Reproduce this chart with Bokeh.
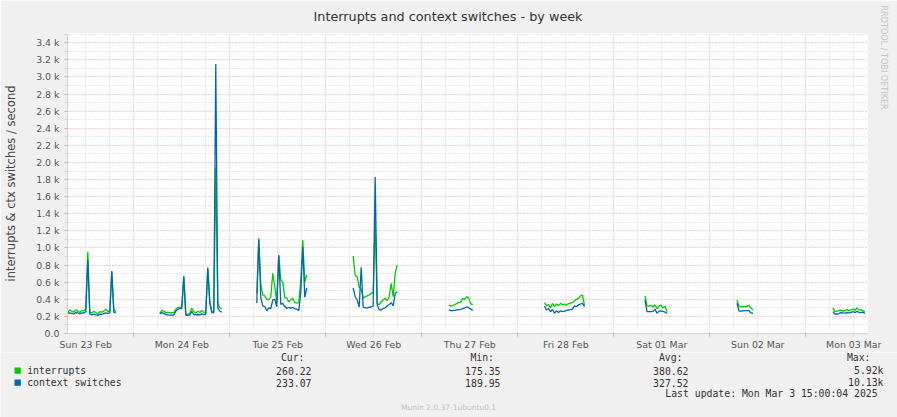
import numpy as np
from bokeh.plotting import figure
from bokeh.layouts import column
from bokeh.models import Range1d, FixedTicker, Grid, Label, BoxAnnotation, Title
from bokeh.embed import file_html
from bokeh.resources import INLINE

# ---------------- data (hours since Sun 23 Feb 2025 00:00, 30-min samples) ----
STEP = 0.5
seg_starts = [7.5, 30.5, 54.75, 78.85, 102.75, 126.68, 151.8, 174.8, 198.8]

int_sun23 = [244, 275, 260, 250, 278, 262, 245, 270, 262, 290, 957, 250, 240, 260, 245,
             230, 255, 250, 262, 285, 260, 260, 720, 290, 250]
ctx_sun23 = [236, 240, 235, 228, 245, 240, 228, 240, 240, 255, 860, 230, 218, 228, 218,
             212, 225, 222, 232, 242, 235, 240, 731, 250, 240]
int_mon24 = [236, 270, 262, 244, 248, 240, 245, 240, 285, 305, 305, 310, 660, 225, 222, 240,
             295, 255, 240, 260, 245, 270, 250, 245, 750, 380, 260, 255, 1940, 360, 300, 290]
ctx_mon24 = [228, 245, 235, 222, 218, 215, 215, 214, 260, 285, 290, 290, 672, 215, 212, 215,
             260, 225, 218, 222, 218, 230, 222, 225, 770, 355, 245, 240, 3150, 300, 260, 250]
int_tue25 = [470, 1113, 579, 450, 440, 400, 392, 430, 704, 549, 372, 905, 626, 600, 420, 410,
             372, 392, 412, 360, 355, 360, 620, 1094, 600, 684]
ctx_tue25 = [353, 1100, 423, 322, 315, 265, 300, 290, 392, 400, 313, 918, 340, 353, 315, 294,
             307, 294, 307, 290, 284, 270, 480, 1015, 423, 532]
int_wed26 = [906, 680, 665, 540, 520, 412, 430, 440, 450, 470, 480, 1300, 353, 335, 372, 392,
             412, 384, 430, 586, 430, 704, 801]
ctx_wed26 = [532, 430, 392, 310, 774, 307, 300, 300, 307, 310, 320, 1830, 335, 278, 275, 294,
             300, 322, 340, 360, 322, 470, 489]
int_thu27 = [333, 320, 330, 335, 353, 360, 365, 411, 400, 430, 411, 345, 340]
ctx_thu27 = [275, 268, 268, 270, 275, 280, 283, 290, 300, 313, 300, 285, 268]
int_fri28 = [360, 325, 340, 300, 353, 315, 345, 325, 353, 335, 345, 330, 350, 355, 360, 384,
             400, 411, 440, 450, 325]
ctx_fri28 = [322, 275, 290, 255, 280, 236, 265, 245, 265, 255, 262, 270, 275, 278, 285, 322,
             315, 335, 345, 353, 313]
int_sat01 = [440, 325, 320, 330, 310, 335, 290, 320, 333, 300, 320, 255]
ctx_sat01 = [392, 255, 255, 255, 258, 285, 236, 262, 265, 260, 250, 236]
int_sun02 = [390, 318, 310, 312, 315, 318, 330, 300, 275]
ctx_sun02 = [355, 262, 262, 265, 268, 268, 268, 240, 236]
int_mon03 = [300, 255, 262, 268, 275, 262, 270, 280, 268, 275, 285, 270, 300, 275, 280, 268, 260]
ctx_mon03 = [255, 228, 228, 232, 244, 240, 238, 244, 240, 248, 255, 245, 258, 248, 245, 250, 233]

int_segments = [int_sun23, int_mon24, int_tue25, int_wed26, int_thu27, int_fri28,
                int_sat01, int_sun02, int_mon03]
ctx_segments = [ctx_sun23, ctx_mon24, ctx_tue25, ctx_wed26, ctx_thu27, ctx_fri28,
                ctx_sat01, ctx_sun02, ctx_mon03]

day_labels = ["Sun 23 Feb", "Mon 24 Feb", "Tue 25 Feb", "Wed 26 Feb", "Thu 27 Feb",
              "Fri 28 Feb", "Sat 01 Mar", "Sun 02 Mar", "Mon 03 Mar"]
y_ticks = list(range(0, 3401, 200))
y_tick_labels = ["0.0"] + ["%.1f k" % (v / 1000) for v in y_ticks[1:]]

series_names = ["interrupts", "context switches"]
series_colors = ["#00CC00", "#0066B3"]
cur_vals = ["260.22", "233.07"]
min_vals = ["175.35", "189.95"]
avg_vals = ["380.62", "327.52"]
max_vals = ["5.92k", "10.13k"]

# ---------------- build series ----------------
xs, gi, bc = [], [], []
for s, g, b in zip(seg_starts, int_segments, ctx_segments):
    xs += [s + STEP * i for i in range(len(g))] + [np.nan]
    gi += list(g) + [np.nan]
    bc += list(b) + [np.nan]

# ---------------- main figure ----------------
W, H = 897, 417
MAIN_H = 352
FL, FT, FW, FH = 67, 33, 800, 300
X0, X1 = 7.43, 207.43
Y0, Y1 = 0, 3508
BG = "#F0F0F0"

p = figure(width=W, height=MAIN_H, output_backend="svg", toolbar_location=None, title=None,
           x_range=Range1d(X0, X1), y_range=Range1d(Y0, Y1),
           min_border_left=FL, min_border_right=W - FL - FW,
           min_border_top=FT, min_border_bottom=MAIN_H - FT - FH)
p.background_fill_color = "white"
p.border_fill_color = BG
p.outline_line_color = None
p.frame_align = False

AXC = "#C9D0F2"
TICKC = "#555555"
MAJ = "#E6A4A4"
MIN = "#D4D4D4"

midnights = [24 * i for i in range(1, 9)]
noons = [12 + 24 * i for i in range(len(day_labels))]
six_h = [6 * i for i in range(1, 35) if (6 * i) % 24 != 0]
hund = [v for v in range(100, 3501, 100) if v % 200 != 0]

p.xaxis.ticker = FixedTicker(ticks=noons, minor_ticks=midnights)
p.xaxis.major_label_overrides = {t: l for t, l in zip(noons, day_labels)}
p.yaxis.ticker = FixedTicker(ticks=y_ticks, minor_ticks=hund)
p.yaxis.major_label_overrides = {v: l for v, l in zip(y_ticks, y_tick_labels)}
for ax in (p.xaxis, p.yaxis):
    ax.axis_line_color = AXC
    ax.major_tick_in = 0
    ax.minor_tick_in = 0
    ax.major_tick_out = 3
    ax.minor_tick_out = 3
    ax.major_label_text_font = "DejaVu Sans"
    ax.major_label_text_font_size = "9.4px"
    ax.major_label_text_color = TICKC
p.xaxis.major_tick_line_color = MIN
p.xaxis.minor_tick_line_color = MAJ
p.yaxis.major_tick_line_color = MAJ
p.yaxis.minor_tick_line_color = MIN
p.xaxis.major_label_standoff = 2
p.yaxis.major_label_standoff = 5
p.yaxis.axis_label = "interrupts & ctx switches / second"
p.yaxis.axis_label_text_font = "DejaVu Sans"
p.yaxis.axis_label_text_font_size = "11.5px"
p.yaxis.axis_label_text_font_style = "normal"
p.yaxis.axis_label_text_color = "#444444"
p.yaxis.axis_label_standoff = 15

# grids
p.xgrid.grid_line_color = None
p.ygrid.grid_line_color = None
p.add_layout(Grid(dimension=0, ticker=FixedTicker(ticks=midnights, minor_ticks=six_h),
                  grid_line_color=MAJ, grid_line_dash="1 2",
                  minor_grid_line_color=MIN, minor_grid_line_dash="1 2"))
p.add_layout(Grid(dimension=1, ticker=FixedTicker(ticks=y_ticks[1:], minor_ticks=hund),
                  grid_line_color=MAJ, grid_line_dash="1 2",
                  minor_grid_line_color=MIN, minor_grid_line_dash="1 2"))

# series
p.line(xs, gi, line_color=series_colors[0], line_width=1.3)
p.line(xs, bc, line_color=series_colors[1], line_width=1.3)

# title and vertical credit text (in side panels, not clipped)
p.add_layout(Title(text="Interrupts and context switches - by week", align="left",
                   offset=246, standoff=16, vertical_align="top",
                   text_font="DejaVu Sans", text_font_size="12.8px",
                   text_font_style="normal", text_color="#333333"), "above")
p.add_layout(Title(text="RRDTOOL / TOBI OETIKER", align="left", offset=-28, standoff=17.5,
                   vertical_align="top", text_font="DejaVu Sans", text_font_size="8.1px",
                   text_font_style="normal", text_color="#C4C4C4"), "right")

# ---------------- legend strip ----------------
LH = H - MAIN_H
lg = figure(width=W, height=LH, output_backend="svg", toolbar_location=None, title=None,
            x_range=Range1d(0, W), y_range=Range1d(LH, 0),
            x_axis_type=None, y_axis_type=None,
            min_border=0, min_border_left=0, min_border_right=0,
            min_border_top=0, min_border_bottom=0)
lg.background_fill_color = BG
lg.border_fill_color = BG
lg.outline_line_color = None
lg.grid.visible = False
lg.frame_align = False

def lab(px, py, text, size, color, font="DejaVu Sans Mono", align="left"):
    lg.add_layout(Label(x=px, y=py - MAIN_H, text=text, text_font=font,
                        text_font_size=size, text_color=color, text_align=align,
                        text_baseline="middle"))

LFS = "9.8px"
LC = "#333333"
rows_y = [370, 382]
for i, (name, col) in enumerate(zip(series_names, series_colors)):
    ry = rows_y[i]
    lg.add_layout(BoxAnnotation(left=14, right=20.3, top=ry - 3 - MAIN_H,
                                bottom=ry + 3.2 - MAIN_H,
                                fill_color=col, fill_alpha=1, line_color=None))
    lab(26.7, ry, name, LFS, LC)
    lab(311, ry, cur_vals[i], LFS, LC, align="right")
    lab(500, ry, min_vals[i], LFS, LC, align="right")
    lab(688, ry, avg_vals[i], LFS, LC, align="right")
    lab(883, ry, max_vals[i], LFS, LC, align="right")

lab(304, 357.3, "Cur:", LFS, LC, align="right")
lab(493.5, 357.3, "Min:", LFS, LC, align="right")
lab(682, 357.3, "Avg:", LFS, LC, align="right")
lab(870, 357.3, "Max:", LFS, LC, align="right")
lab(883, 393.3, "Last update: Mon Mar  3 15:00:04 2025", LFS, LC, align="right")
lab(448, 406.7, "Munin 2.0.37-1ubuntu0.1", "7.5px", "#BDBDBD", font="DejaVu Sans",
    align="center")

layout = column(p, lg, spacing=0)
open("out.html", "w").write(file_html(layout, INLINE))
